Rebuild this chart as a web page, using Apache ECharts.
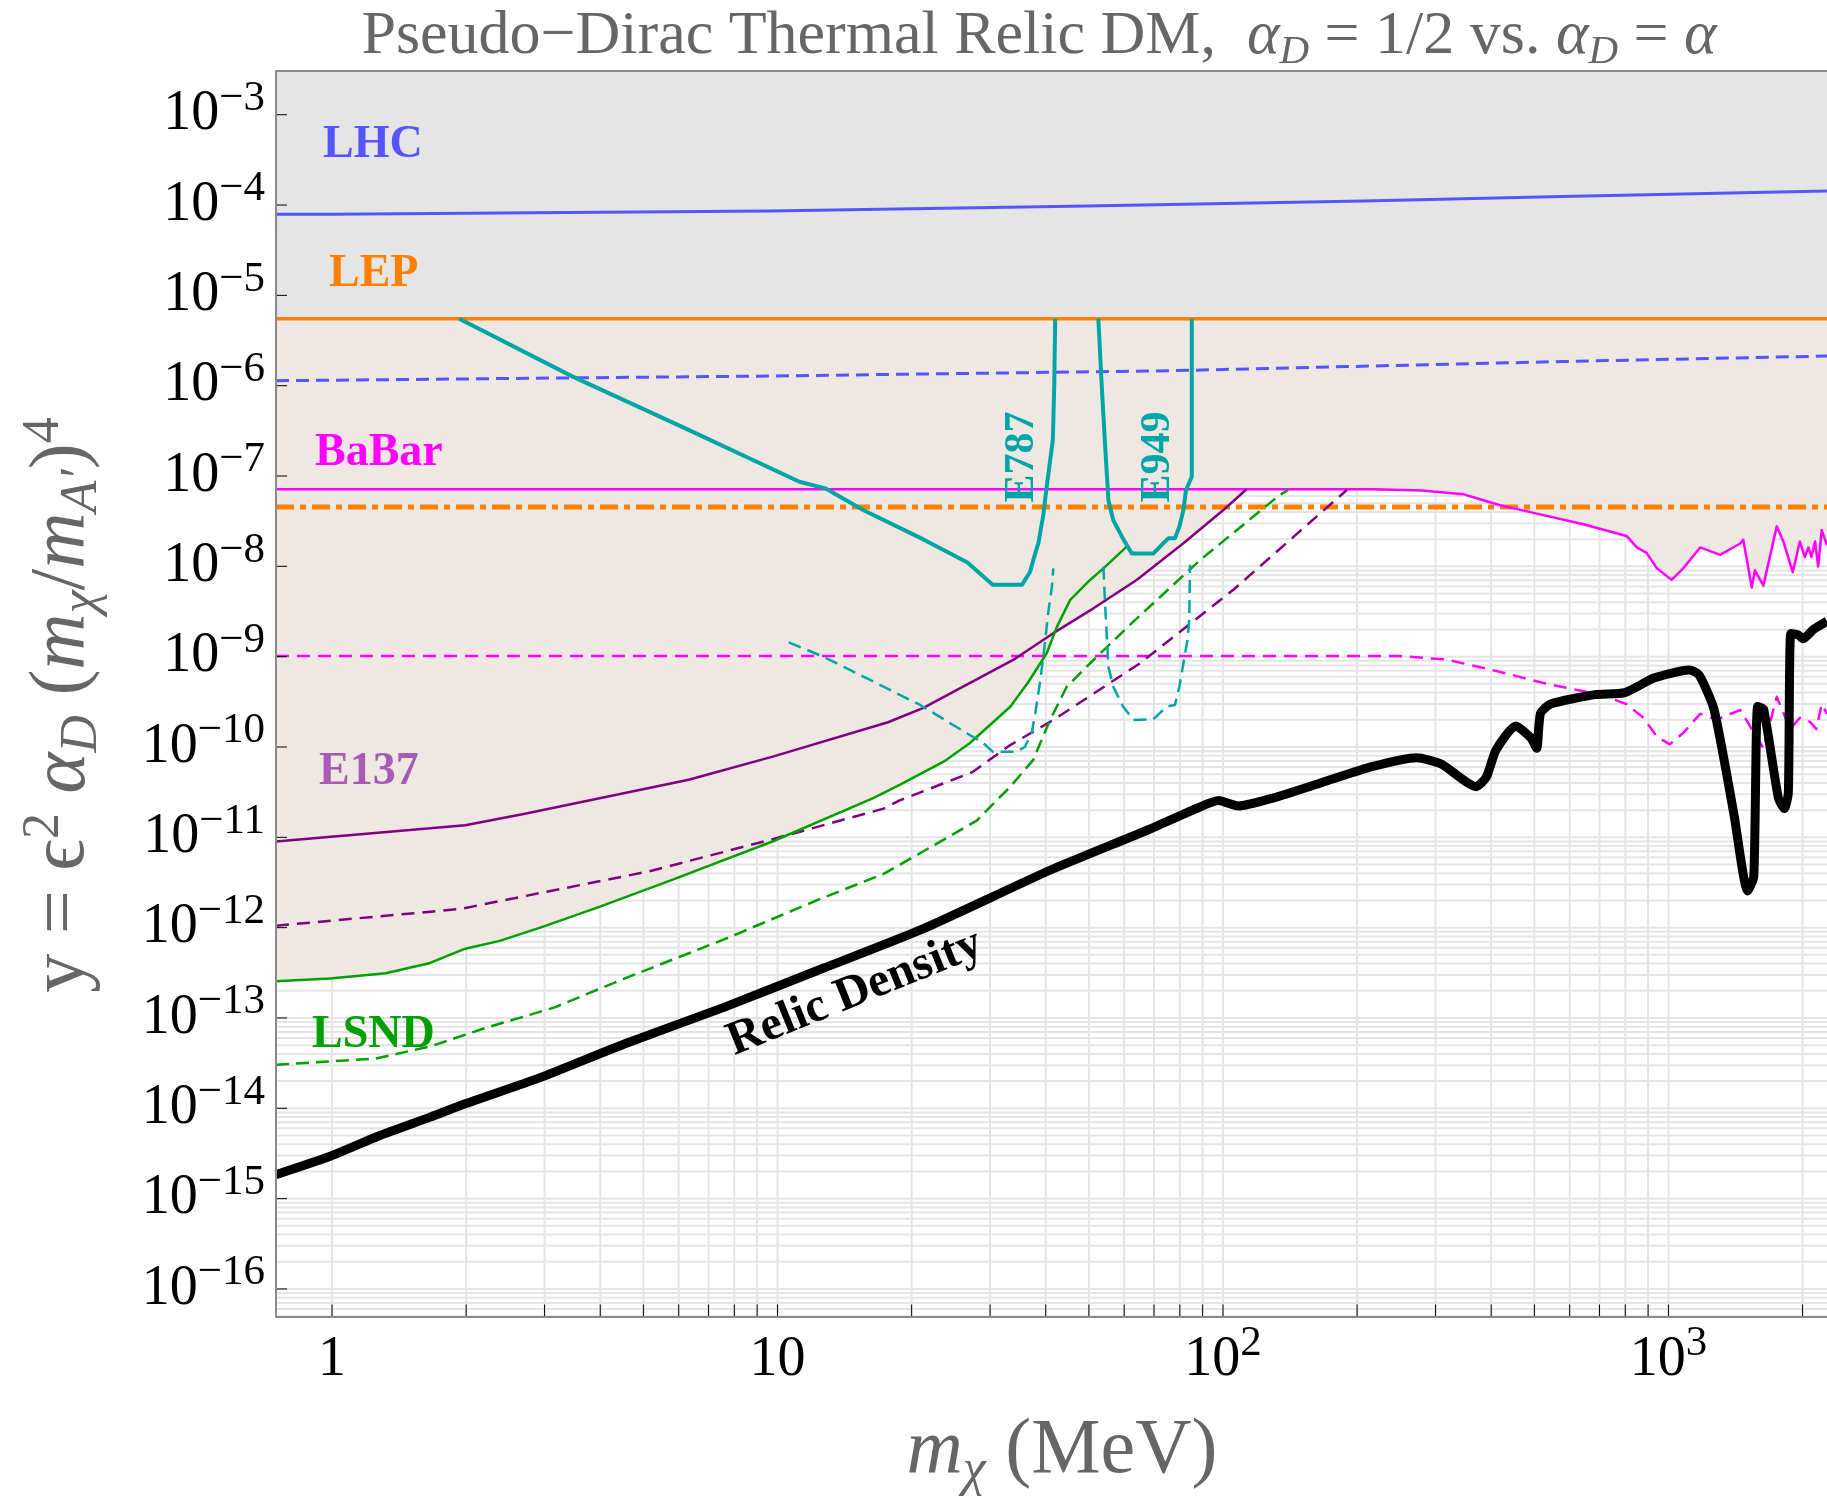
<!DOCTYPE html>
<html><head><meta charset="utf-8">
<script src="https://cdn.jsdelivr.net/npm/echarts@6/dist/echarts.min.js"></script>
<style>html,body{margin:0;padding:0;background:#fff}#c{width:1827px;height:1498px}</style>
</head><body><div id="c"></div>
<script>
// ---------- axis ranges & ticks ----------
const X_MIN = 0.7485, X_MAX = 2269;
const Y_MIN = 4.955e-17, Y_MAX = 3.047e-3;
const xTickDecades = [1, 10, 100, 1000];
const xTickLabels = ['{b|1}', '{b|10}', '{b|10}{s|2}', '{b|10}{s|3}'];
const yTickExponents = [-16, -15, -14, -13, -12, -11, -10, -9, -8, -7, -6, -5, -4, -3];

// ---------- data (m_chi in MeV, y) ----------
const lhcSolid = [[0.7485,7.9e-5],[1.0,7.9e-5],[9.6,8.6e-5],[49.5,9.75e-5],[207,1.11e-4],[577,1.24e-4],[2269,1.43e-4]];
const lhcDashed = [[0.7485,1.135e-6],[9.6,1.28e-6],[74.5,1.46e-6],[577,1.85e-6],[2269,2.13e-6]];
const lepSolid = [[0.7485,5.52e-6],[2269,5.52e-6]];
const lepDashDot = [[0.7485,4.53e-8],[2269,4.53e-8]];
const babarSolid = [[0.7485,7.13e-8],[218,7.13e-8],[280,6.9e-8],[346,6.3e-8],[379,5.5e-8],[419,4.75e-8],[498,3.91e-8],[644,2.92e-8],[805,2.17e-8],[849,1.62e-8],[893,1.41e-8],[942,9.5e-9],[1016,7.08e-9],[1079,9.5e-9],[1178,1.62e-8],[1306,1.34e-8],[1449,1.79e-8],[1472,1.97e-8],[1538,5.83e-9],[1563,9.04e-9],[1633,6.12e-9],[1750,2.77e-8],[1811,1.88e-8],[1901,8.61e-9],[1972,1.88e-8],[2023,1.27e-8],[2061,1.62e-8],[2094,1.27e-8],[2133,1.88e-8],[2168,9.95e-9],[2208,2.52e-8],[2269,1.71e-8]];
const babarDashed = [[0.7485,1.02e-9],[246,1.02e-9],[317,9.3e-10],[380,7.6e-10],[434,6.5e-10],[524,5.1e-10],[703,3.8e-10],[805,2.98e-10],[879,2.1e-10],[942,1.3e-10],[1007,1.07e-10],[1079,1.43e-10],[1178,2.33e-10],[1282,2.01e-10],[1449,2.57e-10],[1633,9.7e-11],[1750,3.6e-10],[1875,1.58e-10],[1972,2.1e-10],[2075,1.91e-10],[2148,1.58e-10],[2208,2.98e-10],[2269,2.33e-10]];
const e137Solid = [[0.7485,9e-12],[1.99,1.36e-11],[2.71,1.82e-11],[6.32,4.34e-11],[9.8,7.88e-11],[17.7,1.88e-10],[21.2,2.69e-10],[33.8,9.2e-10],[41.6,1.82e-9],[51.2,3.43e-9],[64,7.07e-9],[81.5,1.8e-8],[100.2,4.2e-8],[113,7.13e-8]];
const e137Dashed = [[0.7485,1.05e-12],[1.94,1.61e-12],[5.15,4.2e-12],[9.8,9.6e-12],[17.3,2.08e-11],[18.8,2.56e-11],[27.4,5.28e-11],[33.3,1.05e-10],[41.6,1.99e-10],[65.1,8.45e-10],[105.5,5.5e-9],[189.6,7.0e-8]];
const lsndSolid = [[0.7485,2.55e-13],[0.99,2.73e-13],[1.32,3.13e-13],[1.66,4.07e-13],[1.99,5.85e-13],[2.38,7.14e-13],[3.0,1.04e-12],[3.98,1.7e-12],[5.86,3.44e-12],[9.8,9.1e-12],[16.4,2.72e-11],[18.8,3.8e-11],[23.6,6.87e-11],[27,1.1e-10],[33.3,2.79e-10],[36.6,5.28e-10],[40.2,1.09e-9],[42.4,2.15e-9],[45.4,4.25e-9],[50.3,7.07e-9],[53.9,9.5e-9],[60.8,1.65e-8]];
const lsndDashed = [[0.7485,3.03e-14],[1.25,3.55e-14],[1.66,4.83e-14],[2.2,7.7e-14],[3.16,1.31e-13],[4.53,2.73e-13],[7.58,7.4e-13],[12.7,2.16e-12],[17.3,3.93e-12],[23.5,9.3e-12],[28,1.53e-11],[33.3,3.63e-11],[37.5,7.2e-11],[40.9,1.99e-10],[44.6,4.65e-10],[50.3,8.45e-10],[62.9,2.44e-9],[88.8,1.17e-8],[134,6.16e-8],[140,7.0e-8]];
const e787Solid = [[1.93,5.52e-6],[3.47,1.26e-6],[6.09,3.52e-7],[11.2,8.65e-8],[12.8,7.3e-8],[15.6,4.17e-8],[21.2,2e-8],[26.7,1.1e-8],[30.4,6.27e-9],[35.4,6.27e-9],[36.9,8.7e-9],[37.5,1.17e-8],[38.5,1.8e-8],[39.5,3.7e-8],[40.2,7.6e-8],[41.5,2.5e-7],[41.8,1e-6],[42.0,5.52e-6]];
const e787Dashed = [[10.6,1.44e-9],[12.7,9.95e-10],[20.9,2.92e-10],[26.6,1.42e-10],[29,1.1e-10],[30.4,8.87e-11],[34.4,8.87e-11],[35.9,1.0e-10],[37.2,1.42e-10],[37.9,2.36e-10],[38.8,5.07e-10],[39.6,1.09e-9],[40.5,3.02e-9],[41.3,5.96e-9],[41.6,9.5e-9]];
const e949Solid = [[52.5,5.52e-6],[53.4,1.05e-6],[54.3,2.42e-7],[55.3,5.4e-8],[56.7,3.26e-8],[59.3,2.13e-8],[62.4,1.39e-8],[69.8,1.39e-8],[73.4,1.8e-8],[75.4,2.04e-8],[78.0,2.04e-8],[79.8,2.75e-8],[81.5,4.2e-8],[82.6,7.0e-8],[85.1,9.8e-8],[85.1,5.52e-6]];
const e949Dashed = [[53.9,9.93e-9],[54.3,4.25e-9],[54.8,1.82e-9],[55.3,7.74e-10],[56.7,4.65e-10],[59.7,2.79e-10],[62.9,1.99e-10],[69.8,2.03e-10],[74.7,2.79e-10],[78,2.92e-10],[79.8,4.65e-10],[81.5,8.45e-10],[83.2,1.53e-9],[84,2.55e-9],[84.3,1.04e-8]];
const relicDensity = [[0.7485,1.84e-15],[0.99,2.94e-15],[1.28,5e-15],[1.66,7.98e-15],[1.99,1.12e-14],[2.92,2.17e-14],[4.53,5.16e-14],[7.58,1.31e-13],[12.7,3.57e-13],[21.2,9.7e-13],[40.9,4.32e-12],[68.2,1.22e-11],[88.2,2.14e-11],[97.7,2.55e-11],[108.2,2.22e-11],[129.5,2.72e-11],[167,4.05e-11],[216,6.05e-11],[272,7.6e-11],[309,6.47e-11],[370,3.64e-11],[390,4.63e-11],[410,9.27e-11],[454,1.71e-10],[491,1.26e-10],[506,9.66e-11],[516,2.36e-10],[544,2.99e-10],[684,3.8e-10],[798,4.0e-10],[930,5.83e-10],[1113,7.13e-10],[1172,6.24e-10],[1265,2.62e-10],[1402,1.82e-11],[1506,2.54e-12],[1554,3.68e-12],[1585,2.8e-10],[1635,2.62e-10],[1765,2.72e-11],[1820,2.08e-11],[1858,3.1e-11],[1882,1.81e-9],[1954,1.74e-9],[2006,1.58e-9],[2113,1.99e-9],[2269,2.47e-9]];

// ---------- styles ----------
const SERIF = "'Liberation Serif', 'DejaVu Serif', serif";
const C = { lhc:'#5555ff', lep:'#ff8000', babar:'#ff00ff', e137:'#800080', e137Label:'#a65cb3',
  lsnd:'#00a000', teal:'#00a6a6', grid:'#e4e4e4', grey:'#e5e5e5', beige:'#efe7e1', text:'#666666' };

// grid line positions (minor log grid)
const xGrid = [];
for (let n = 0; n <= 3; n++) for (let k = 1; k <= 9; k++) { const v = k * Math.pow(10, n); if (v <= X_MAX) xGrid.push(v); }
const yGrid = [];
for (let n = -17; n <= -3; n++) for (let k = 1; k <= 9; k++) { const v = k * Math.pow(10, n); if (v >= Y_MIN && v <= Y_MAX) yGrid.push(v); }

const tickRich = {
  b: { fontSize: 56, lineHeight: 75, fontFamily: SERIF, fill: '#000', color: '#000', verticalAlign: 'middle' },
  s: { fontSize: 43, lineHeight: 44, fontFamily: SERIF, fill: '#000', color: '#000', verticalAlign: 'top' }
};

function lineSeries(name, data, color, width, type, z, extra) {
  return Object.assign({ name, type: 'line', data, symbol: 'none', showSymbol: false, silent: true, z: z || 3,
    lineStyle: { color, width, type: type || 'solid', cap: 'butt', join: 'round' }, animation: false }, extra || {});
}
function fillSeries(name, data, color, z) {
  return { name, type: 'line', data, symbol: 'none', showSymbol: false, silent: true, z,
    lineStyle: { width: 0, color }, areaStyle: { color, opacity: 1, origin: 1 }, animation: false };
}

const chart = echarts.init(document.getElementById('c'), null, { renderer: 'canvas', width: 1827, height: 1498 });

const titleRich = (size, sub, lh) => ({
  r: { fontSize: size, lineHeight: lh, fontFamily: SERIF, fill: C.text, verticalAlign: 'middle' },
  i: { fontSize: size, lineHeight: lh, fontFamily: SERIF, fontStyle: 'italic', fill: C.text, verticalAlign: 'middle' },
  sub: { fontSize: sub, lineHeight: sub, fontFamily: SERIF, fontStyle: 'italic', fill: C.text, verticalAlign: 'bottom' },
  sup: { fontSize: sub, lineHeight: sub, fontFamily: SERIF, fill: C.text, verticalAlign: 'top' }
});

const option = {
  animation: false,
  backgroundColor: '#ffffff',
  grid: { left: 276, top: 71, right: 0, bottom: 181.5, containLabel: false, outerBoundsMode: 'none' },
  xAxis: [
    { type: 'log', logBase: 10, min: X_MIN, max: X_MAX, position: 'bottom', z: 10,
      axisLine: { show: true, lineStyle: { color: '#8a8a8a', width: 2 } },
      axisTick: { show: false }, axisLabel: { show: false }, splitLine: { show: false } },
    { type: 'log', logBase: 10, min: X_MIN, max: X_MAX, position: 'top', z: 10,
      axisLine: { show: true, lineStyle: { color: '#8a8a8a', width: 2 } },
      axisTick: { show: false }, axisLabel: { show: false }, splitLine: { show: false } }
  ],
  yAxis: { type: 'log', logBase: 10, min: Y_MIN, max: Y_MAX, z: 10,
    axisLine: { show: true, onZero: false, lineStyle: { color: '#8a8a8a', width: 2 } },
    axisTick: { show: false }, axisLabel: { show: false }, splitLine: { show: false } },
  series: [
    { name: 'gridV', type: 'custom', silent: true, z: 0, clip: true,
      data: xGrid.map(v => [v, Y_MIN]),
      renderItem: (params, api) => {
        const v = api.value(0); const p1 = api.coord([v, Y_MIN]); const p2 = api.coord([v, Y_MAX]);
        return { type: 'line', shape: { x1: p1[0], y1: p1[1], x2: p2[0], y2: p2[1] }, style: { stroke: C.grid, lineWidth: 2 } };
      } },
    { name: 'gridH', type: 'custom', silent: true, z: 0, clip: true,
      data: yGrid.map(v => [X_MIN, v]),
      renderItem: (params, api) => {
        const v = api.value(1); const p1 = api.coord([X_MIN, v]); const p2 = api.coord([X_MAX, v]);
        return { type: 'line', shape: { x1: p1[0], y1: p1[1], x2: p2[0], y2: p2[1] }, style: { stroke: C.grid, lineWidth: 2 } };
      } },
    fillSeries('LSND region', lsndSolid, C.beige, 1),
    fillSeries('E137 region', e137Solid, C.beige, 1),
    fillSeries('BaBar region', babarSolid, C.beige, 1),
    fillSeries('LEP region', lepSolid, C.grey, 2),
    lineSeries('LHC', lhcSolid, C.lhc, 3),
    lineSeries('LHC (alpha)', lhcDashed, C.lhc, 3, [13, 7]),
    lineSeries('LEP', lepSolid, C.lep, 3.5),
    lineSeries('LEP (alpha)', lepDashDot, C.lep, 5, [18, 6, 6, 6]),
    lineSeries('BaBar', babarSolid, C.babar, 2.5),
    lineSeries('BaBar (alpha)', babarDashed, C.babar, 2.5, [13, 8]),
    lineSeries('E137', e137Solid, C.e137, 2.5),
    lineSeries('E137 (alpha)', e137Dashed, C.e137, 2.5, [13, 8]),
    lineSeries('LSND', lsndSolid, C.lsnd, 2.5),
    lineSeries('LSND (alpha)', lsndDashed, C.lsnd, 2.5, [13, 7]),
    lineSeries('E787', e787Solid, C.teal, 4),
    lineSeries('E787 (alpha)', e787Dashed, C.teal, 2.5, [13, 7]),
    lineSeries('E949', e949Solid, C.teal, 4),
    lineSeries('E949 (alpha)', e949Dashed, C.teal, 2.5, [13, 7]),
    lineSeries('Relic Density', relicDensity, '#000000', 9, 'solid', 4, { smooth: 0.2 }),
    { name: 'xTicks', type: 'custom', silent: true, z: 6, clip: false,
      data: xGrid.map(v => [v, Y_MIN]),
      renderItem: (params, api) => {
        const p = api.coord([api.value(0), Y_MIN]);
        return { type: 'line', shape: { x1: p[0], y1: p[1], x2: p[0], y2: p[1] - 12 }, style: { stroke: '#000', lineWidth: 1 } };
      } },
    { name: 'xLabels', type: 'custom', silent: true, z: 6, clip: false,
      data: xTickDecades.map(v => [v, Y_MIN]),
      renderItem: (params, api) => {
        const p = api.coord([api.value(0), Y_MIN]);
        return { type: 'text', x: p[0], y: p[1] + 6,
          style: { text: xTickLabels[params.dataIndex], rich: tickRich, align: 'center', verticalAlign: 'top',
            textAlign: 'center', textVerticalAlign: 'top', fill: '#000', font: '56px ' + SERIF } };
      } },
    { name: 'yTicks', type: 'custom', silent: true, z: 6, clip: false,
      data: yTickExponents.map(e => [X_MIN, Math.pow(10, e)]),
      renderItem: (params, api) => {
        const e = yTickExponents[params.dataIndex];
        const p = api.coord([X_MIN, api.value(1)]);
        return { type: 'group', children: [
          { type: 'line', shape: { x1: p[0], y1: p[1], x2: p[0] + 11, y2: p[1] }, style: { stroke: '#000', lineWidth: 1 } },
          { type: 'text', x: p[0] - 11, y: p[1],
            style: { text: '{b|10}{s|\u2212' + Math.abs(e) + '}', rich: tickRich, align: 'right', verticalAlign: 'middle',
              textAlign: 'right', textVerticalAlign: 'middle', fill: '#000', font: '56px ' + SERIF } }
        ] };
      } }
  ],
  graphic: [
    { type: 'text', x: 1039, y: 37, z: 20, silent: true,
      style: { text: '{r|Pseudo\u2212Dirac Thermal Relic DM,  }{i|\u03b1}{sub|D}{r| = 1/2 vs. }{i|\u03b1}{sub|D}{r| = }{i|\u03b1}',
        align: 'center', verticalAlign: 'middle', fill: C.text, font: '62px ' + SERIF, rich: titleRich(62, 41, 72) } },
    { type: 'text', x: 63, y: 705, rotation: Math.PI / 2, z: 20, silent: true,
      style: { text: '{r|y = \u03f5}{sup|2}{r| }{i|\u03b1}{sub|D}{r| (}{i|m}{sub|\u03c7}{r|/}{i|m}{sub|A\u2032}{r|)}{sup|4}',
        align: 'center', verticalAlign: 'middle', fill: C.text, font: '78px ' + SERIF, rich: titleRich(78, 52, 90) } },
    { type: 'text', x: 1062, y: 1452, z: 20, silent: true,
      style: { text: '{i|m}{sub|\u03c7}{r| (MeV)}', align: 'center', verticalAlign: 'middle', fill: C.text, font: '78px ' + SERIF,
        rich: titleRich(78, 52, 90) } },
    { type: 'text', x: 323, y: 145, z: 20, silent: true, style: { text: 'LHC', fill: C.lhc, font: 'bold 46px ' + SERIF, align: 'left', verticalAlign: 'middle' } },
    { type: 'text', x: 329, y: 274, z: 20, silent: true, style: { text: 'LEP', fill: C.lep, font: 'bold 46px ' + SERIF, align: 'left', verticalAlign: 'middle' } },
    { type: 'text', x: 315, y: 453, z: 20, silent: true, style: { text: 'BaBar', fill: C.babar, font: 'bold 46px ' + SERIF, align: 'left', verticalAlign: 'middle' } },
    { type: 'text', x: 319, y: 772, z: 20, silent: true, style: { text: 'E137', fill: C.e137Label, font: 'bold 46px ' + SERIF, align: 'left', verticalAlign: 'middle' } },
    { type: 'text', x: 312, y: 1035, z: 20, silent: true, style: { text: 'LSND', fill: C.lsnd, font: 'bold 46px ' + SERIF, align: 'left', verticalAlign: 'middle' } },
    { type: 'text', x: 1022, y: 457, rotation: Math.PI / 2, z: 20, silent: true, style: { text: 'E787', fill: C.teal, font: 'bold 42px ' + SERIF, align: 'center', verticalAlign: 'middle' } },
    { type: 'text', x: 1158, y: 457, rotation: Math.PI / 2, z: 20, silent: true, style: { text: 'E949', fill: C.teal, font: 'bold 42px ' + SERIF, align: 'center', verticalAlign: 'middle' } },
    { type: 'text', x: 855, y: 993, rotation: 22 * Math.PI / 180, z: 20, silent: true, style: { text: 'Relic Density', fill: '#000', font: 'bold 48px ' + SERIF, align: 'center', verticalAlign: 'middle' } }
  ]
};
chart.setOption(option);
</script>
</body></html>
